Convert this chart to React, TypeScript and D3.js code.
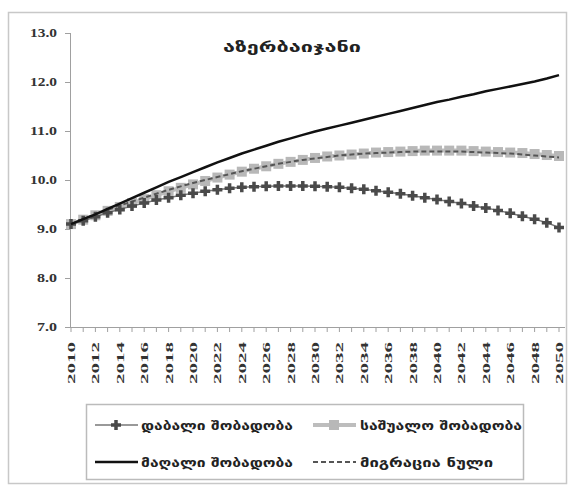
import React from "react";
import * as d3 from "d3";

const years: number[] = d3.range(2010, 2051);
const lowFertility: number[] = [9.10, 9.17, 9.25, 9.33, 9.40, 9.47, 9.53, 9.59, 9.64, 9.69, 9.73, 9.77, 9.80, 9.83, 9.85, 9.86, 9.87, 9.88, 9.88, 9.88, 9.87, 9.86, 9.85, 9.83, 9.81, 9.78, 9.75, 9.72, 9.68, 9.64, 9.60, 9.56, 9.52, 9.47, 9.43, 9.38, 9.32, 9.26, 9.20, 9.13, 9.03];
const mediumFertility: number[] = [9.10, 9.19, 9.28, 9.37, 9.45, 9.53, 9.61, 9.69, 9.77, 9.84, 9.91, 9.98, 10.05, 10.11, 10.17, 10.23, 10.28, 10.33, 10.37, 10.41, 10.45, 10.48, 10.50, 10.52, 10.54, 10.56, 10.57, 10.58, 10.59, 10.60, 10.60, 10.60, 10.60, 10.59, 10.58, 10.57, 10.56, 10.55, 10.53, 10.51, 10.49];
const highFertility: number[] = [9.10, 9.20, 9.30, 9.41, 9.52, 9.63, 9.74, 9.85, 9.96, 10.06, 10.16, 10.26, 10.36, 10.45, 10.54, 10.62, 10.70, 10.78, 10.85, 10.92, 10.99, 11.05, 11.11, 11.17, 11.23, 11.29, 11.35, 11.41, 11.47, 11.53, 11.59, 11.64, 11.70, 11.75, 11.81, 11.86, 11.91, 11.96, 12.01, 12.07, 12.14];
const zeroMigration: number[] = [9.10, 9.20, 9.30, 9.39, 9.48, 9.56, 9.64, 9.72, 9.80, 9.87, 9.94, 10.00, 10.06, 10.12, 10.18, 10.23, 10.28, 10.33, 10.37, 10.41, 10.44, 10.47, 10.50, 10.52, 10.54, 10.55, 10.56, 10.57, 10.58, 10.58, 10.58, 10.58, 10.58, 10.57, 10.56, 10.55, 10.54, 10.52, 10.50, 10.48, 10.46];
const yTicks: number[] = [7, 8, 9, 10, 11, 12, 13];
const title = "აზერბაიჯანი";
const seriesNames: string[] = ["დაბალი შობადობა", "საშუალო შობადობა", "მაღალი შობადობა", "მიგრაცია ნული"];

const W = 572, H = 487;
const x0 = 71, x1 = 559, yTop = 33, yBot = 327;

export default function App() {
  const x = d3.scaleLinear().domain([2010, 2050]).range([x0, x1]);
  const y = d3.scaleLinear().domain([7, 13]).range([yBot, yTop]);
  const line = (vals: number[]) =>
    d3.line<number>().x((_, i) => x(years[i])).y((v) => y(v))(vals) || "";
  const serif = "'Liberation Serif', 'DejaVu Serif', serif";
  const geo = "'DejaVu Sans', sans-serif";
  const plus = (cx: number, cy: number, k: string | number) => (
    <path key={k} d={`M${cx - 5},${cy}H${cx + 5}M${cx},${cy - 5}V${cy + 5}`} stroke="#4a4a4a" strokeWidth={3.5} />
  );
  const sq = (cx: number, cy: number, k: string | number) => (
    <rect key={k} x={cx - 5} y={cy - 5} width={10} height={10} fill="#b8b8b8" />
  );
  return (
    <svg width={W} height={H} style={{ position: "absolute", left: 0, top: 0, background: "#fff" }}>
      <rect x={8.5} y={12.5} width={558} height={471} fill="#fff" stroke="#c8c8c8" strokeWidth={1.5} />
      <text x={292} y={52} textAnchor="middle" fontFamily={geo} fontSize={15} fontWeight="bold" fill="#222" textLength={138} lengthAdjust="spacingAndGlyphs">{title}</text>
      {/* y axis */}
      <line x1={70.5} x2={70.5} y1={yTop} y2={yBot} stroke="#a0a0a0" />
      {yTicks.map((t) => (
        <g key={t}>
          <line x1={65} x2={70.5} y1={y(t) + 0.5} y2={y(t) + 0.5} stroke="#a0a0a0" />
          <text x={57} y={y(t) + 4} textAnchor="end" fontFamily={serif} fontWeight="bold" fontSize={12} fill="#333" textLength={t >= 10 ? 27 : 20} lengthAdjust="spacingAndGlyphs">{t.toFixed(1)}</text>
        </g>
      ))}
      {/* x axis */}
      <line x1={70} x2={565} y1={yBot + 0.5} y2={yBot + 0.5} stroke="#a0a0a0" />
      {years.map((yr) => (
        <line key={yr} x1={x(yr)} x2={x(yr)} y1={yBot} y2={yBot + 5} stroke="#a0a0a0" />
      ))}
      {years.filter((yr) => yr % 2 === 0).map((yr) => (
        <text key={yr} transform={`translate(${x(yr) + 4},342) rotate(-90)`} textAnchor="end" fontFamily={serif} fontWeight="bold" fontSize={11} fill="#333" textLength={42} lengthAdjust="spacingAndGlyphs">{yr}</text>
      ))}
      {/* series */}
      <path d={line(mediumFertility)} fill="none" stroke="#bdbdbd" strokeWidth={4} />
      {mediumFertility.map((v, i) => sq(x(years[i]), y(v), i))}
      <path d={line(zeroMigration)} fill="none" stroke="#555" strokeWidth={2} strokeDasharray="5,3" />
      <path d={line(lowFertility)} fill="none" stroke="#777" strokeWidth={1.5} />
      {lowFertility.map((v, i) => plus(x(years[i]), y(v), i))}
      <path d={line(highFertility)} fill="none" stroke="#111" strokeWidth={2.5} />
      {/* legend */}
      <rect x={86.5} y={404.5} width={437} height={75} fill="#fff" stroke="#bbb" strokeWidth={1.5} />
      <line x1={95} x2={138} y1={425} y2={425} stroke="#777" strokeWidth={1.5} />
      {plus(116, 425, "lp")}
      <text x={141} y={430} fontFamily={geo} fontWeight="bold" fontSize={13} fill="#222" textLength={152} lengthAdjust="spacingAndGlyphs">{seriesNames[0]}</text>
      <line x1={313} x2={356} y1={425} y2={425} stroke="#bdbdbd" strokeWidth={4} />
      {sq(334, 425, "ls")}
      <text x={360} y={430} fontFamily={geo} fontWeight="bold" fontSize={13} fill="#222" textLength={162} lengthAdjust="spacingAndGlyphs">{seriesNames[1]}</text>
      <line x1={95} x2={138} y1={462} y2={462} stroke="#111" strokeWidth={2.5} />
      <text x={141} y={467} fontFamily={geo} fontWeight="bold" fontSize={13} fill="#222" textLength={152} lengthAdjust="spacingAndGlyphs">{seriesNames[2]}</text>
      <line x1={313} x2={356} y1={462} y2={462} stroke="#555" strokeWidth={2} strokeDasharray="5,3" />
      <text x={360} y={467} fontFamily={geo} fontWeight="bold" fontSize={13} fill="#222" textLength={133} lengthAdjust="spacingAndGlyphs">{seriesNames[3]}</text>
    </svg>
  );
}
